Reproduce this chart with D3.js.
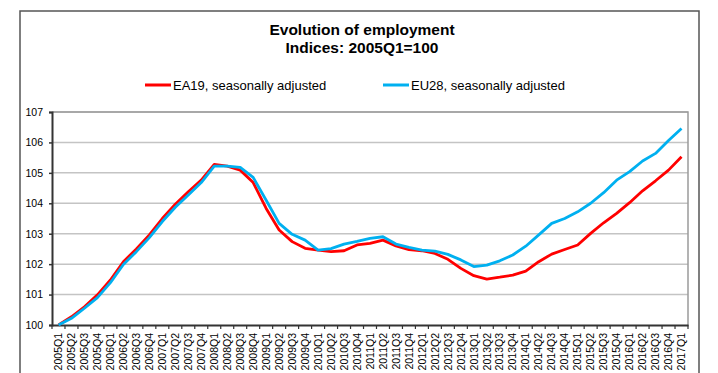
<!DOCTYPE html>
<html>
<head>
<meta charset="utf-8">
<script src="https://cdn.jsdelivr.net/npm/d3@7"></script>
<style>
  body { margin: 0; background: #fff; }
  text { font-family: "Liberation Sans", Arial, sans-serif; fill: #000; }
</style>
</head>
<body>
<div id="chart"></div>
<script>
var width = 718, height = 373;
var margin = {top: 112, right: 30, bottom: 48, left: 52};

var years = d3.range(2005, 2018);
var quarters = [];
years.forEach(function(y) {
  for (var q = 1; q <= 4; q++) {
    if (y == 2017 && q > 1) break;
    quarters.push(y + "Q" + q);
  }
});

var ea19 = [100.0, 100.27, 100.6, 100.99, 101.48, 102.08, 102.5, 102.96, 103.5, 103.97,
            104.38, 104.76, 105.28, 105.22, 105.09, 104.68, 103.83, 103.12, 102.74, 102.52,
            102.46, 102.41, 102.44, 102.63, 102.68, 102.79, 102.6, 102.48, 102.44, 102.35,
            102.16, 101.86, 101.62, 101.51, 101.57, 101.64, 101.77, 102.08, 102.33, 102.48,
            102.63, 103.01, 103.36, 103.67, 104.02, 104.41, 104.74, 105.09, 105.53];

var eu28 = [100.0, 100.22, 100.55, 100.9, 101.39, 101.99, 102.41, 102.87, 103.4, 103.87,
            104.27, 104.68, 105.22, 105.22, 105.18, 104.85, 104.1, 103.34, 102.98, 102.79,
            102.46, 102.51, 102.66, 102.75, 102.85, 102.9, 102.66, 102.55, 102.46, 102.43,
            102.32, 102.14, 101.92, 101.97, 102.11, 102.3, 102.59, 102.96, 103.34, 103.5,
            103.72, 104.0, 104.35, 104.76, 105.04, 105.39, 105.64, 106.06, 106.46];

var yTicks = [100, 101, 102, 103, 104, 105, 106, 107];

var series = [
  {name: "EA19, seasonally adjusted", values: ea19, color: "#ff0000"},
  {name: "EU28, seasonally adjusted", values: eu28, color: "#00b0f0"}
];

var svg = d3.select("#chart").append("svg")
    .attr("width", width).attr("height", height);

// outer frame
svg.append("rect")
    .attr("x", 20).attr("y", 11)
    .attr("width", 679).attr("height", 420)
    .attr("fill", "none")
    .attr("stroke", "#555")
    .attr("stroke-width", 1.5);

var x = d3.scaleBand()
    .domain(quarters)
    .range([margin.left, width - margin.right - 0]);
x.range([52, 688]);

var y = d3.scaleLinear()
    .domain([100, 107])
    .range([325, 112]);

// title
svg.append("text")
    .attr("x", 362).attr("y", 35)
    .attr("text-anchor", "middle")
    .style("font-weight", "bold").style("font-size", "15.5px")
    .text("Evolution of employment");
svg.append("text")
    .attr("x", 362).attr("y", 53)
    .attr("text-anchor", "middle")
    .style("font-weight", "bold").style("font-size", "15.5px")
    .text("Indices: 2005Q1=100");

// legend
var legendX = [145, 383];
var legend = svg.selectAll(".legend")
    .data(series)
    .enter().append("g")
    .attr("class", "legend")
    .attr("transform", function(d, i) { return "translate(" + legendX[i] + ",85)"; });
legend.append("line")
    .attr("x1", 0).attr("x2", 26)
    .attr("stroke", function(d) { return d.color; })
    .attr("stroke-width", 3);
legend.append("text")
    .attr("x", 28).attr("y", 4.5)
    .style("font-size", "13px")
    .text(function(d) { return d.name; });

// gridlines
svg.append("g")
  .selectAll("line")
  .data(yTicks.slice(1))
  .enter().append("line")
    .attr("x1", 52).attr("x2", 688)
    .attr("y1", function(d) { return y(d); })
    .attr("y2", function(d) { return y(d); })
    .attr("stroke", "#c4c4c4")
    .attr("stroke-width", 1.5);

// plot border right/top
svg.append("path")
    .attr("d", "M52," + y(107) + "H688V" + y(100))
    .attr("fill", "none")
    .attr("stroke", "#9a9a9a")
    .attr("stroke-width", 1.5);

// y axis
var yAxis = svg.append("g")
    .attr("transform", "translate(52,0)")
    .call(d3.axisLeft(y).tickValues(yTicks).tickSize(3).tickPadding(6).tickFormat(d3.format("d")));
yAxis.select(".domain").attr("stroke", "#333").attr("stroke-width", 2);
yAxis.selectAll(".tick line").attr("stroke", "#333").attr("stroke-width", 1.5);
yAxis.selectAll("text")
    .style("font-size", "10.5px")
    .style("font-family", "'Liberation Sans', Arial, sans-serif")
    .attr("fill", "#000");

// x axis
var xAxis = svg.append("g")
    .attr("transform", "translate(0,325)")
    .call(d3.axisBottom(x).tickSize(0).tickPadding(0));
xAxis.select(".domain").attr("stroke", "#333").attr("stroke-width", 2);
xAxis.selectAll("text")
    .attr("transform", "rotate(-90)")
    .attr("x", -8).attr("y", 0).attr("dy", "0.35em")
    .attr("text-anchor", "end")
    .style("font-size", "10.5px")
    .style("font-family", "'Liberation Sans', Arial, sans-serif")
    .attr("fill", "#000");

// ticks between categories
var bounds = quarters.map(function(q) { return x(q); }).concat([x.range()[1]]);
svg.append("g")
  .selectAll("line")
  .data(bounds)
  .enter().append("line")
    .attr("x1", function(d) { return d; }).attr("x2", function(d) { return d; })
    .attr("y1", 325).attr("y2", 329)
    .attr("stroke", "#333")
    .attr("stroke-width", 1.2);

// lines
var line = d3.line()
    .x(function(d, i) { return x(quarters[i]) + x.bandwidth() / 2; })
    .y(function(d) { return y(d); });

svg.selectAll(".series")
    .data(series)
    .enter().append("path")
    .attr("class", "series")
    .attr("d", function(d) { return line(d.values); })
    .attr("fill", "none")
    .attr("stroke", function(d) { return d.color; })
    .attr("stroke-width", 2.8)
    .attr("stroke-linejoin", "round");
</script>
</body>
</html>
